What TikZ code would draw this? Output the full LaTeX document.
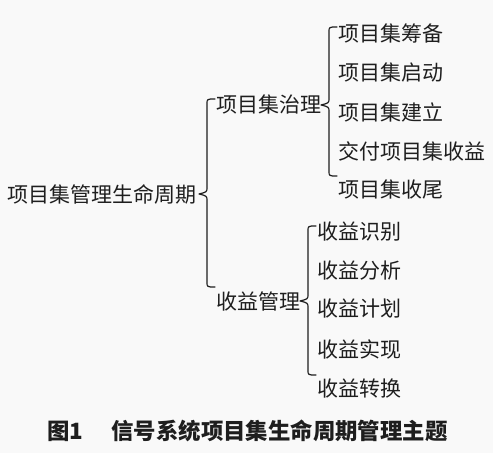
\documentclass[tikz,border=0pt]{standalone}
\usepackage{fontspec}
\setmainfont{Noto Sans CJK SC}
\usetikzlibrary{calc}
\definecolor{bgc}{RGB}{249,249,249}
\definecolor{ink}{RGB}{30,30,30}
\newcommand\mybrace[3]{%
  \draw[bracestyle] let \p1=(#1.east), \p2=(#2.west), \p3=(#3.west) in
    (\x2-0.5pt,\y2+3pt) .. controls (\x2-4.5pt,\y2+3pt) .. (\x2-4.5pt,\y2+0.5pt)
    -- (\x2-4.5pt,\y1+3.5pt) .. controls (\x2-4.5pt,\y1+1pt) .. (\x2-8.5pt,\y1)
    .. controls (\x2-4.5pt,\y1-1pt) .. (\x2-4.5pt,\y1-3.5pt)
    -- (\x2-4.5pt,\y3+9.5pt) .. controls (\x2-4.5pt,\y3+7pt) .. (\x2-0.5pt,\y3+7pt);}
\begin{document}
\begin{tikzpicture}[x=0.5pt,y=-0.5pt,
  lbl/.style={anchor=west,inner sep=0pt,font=\fontsize{10.5pt}{12pt}\selectfont,text=ink},
  bracestyle/.style={draw=ink,line width=0.6pt,line cap=round,line join=round}]
\fill[bgc] (0,0) rectangle (493,453);
\useasboundingbox (0,0) rectangle (493,453);
\node[lbl] (root) at (7,194) {项目集管理生命周期};
\node[lbl] (g1) at (216,105) {项目集治理};
\node[lbl] (g2) at (216,301) {收益管理};
\node[lbl] (a1) at (338,33) {项目集筹备};
\node[lbl] (a2) at (338,73) {项目集启动};
\node[lbl] (a3) at (338,112) {项目集建立};
\node[lbl] (a4) at (338,151) {交付项目集收益};
\node[lbl] (a5) at (338,190) {项目集收尾};
\node[lbl] (b1) at (317,232) {收益识别};
\node[lbl] (b2) at (317,271) {收益分析};
\node[lbl] (b3) at (317,309) {收益计划};
\node[lbl] (b4) at (317,349) {收益实现};
\node[lbl] (b5) at (317,389) {收益转换};
\node[lbl,font=\fontsize{11.2pt}{13pt}\selectfont\bfseries] (cap) at (47,431) {图1\hspace{1.25em}信号系统项目集生命周期管理主题};
\mybrace{root}{g1}{g2}
\mybrace{g1}{a1}{a5}
\mybrace{g2}{b1}{b5}
\end{tikzpicture}
\end{document}
